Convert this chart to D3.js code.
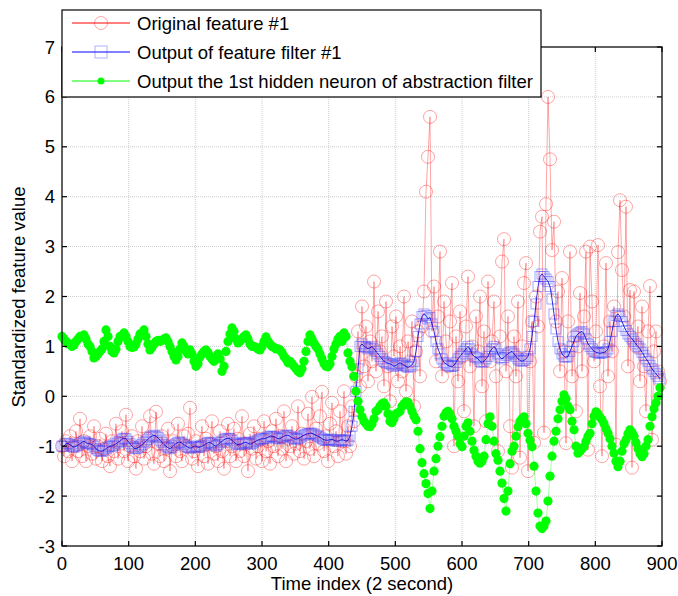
<!DOCTYPE html>
<html>
<head>
<meta charset="utf-8">
<script src="https://cdn.jsdelivr.net/npm/d3@7/dist/d3.min.js"></script>
<style>
  html, body { margin: 0; padding: 0; background: #fff; }
  svg { display: block; font-family: "Liberation Sans", Arial, sans-serif; }
</style>
</head>
<body>
<svg id="chart" width="678" height="596"></svg>
<script>
// Sampling interval of the stored series (time index units)
const timeStep = 3;

// Original feature #1
const originalFeature = [
  -1.0,-1.2,-0.9,-1.1,-0.8,-1.3,-1.0,-0.7,-1.1,-0.45,
  -1.2,-0.9,-1.3,-1.0,-0.8,-1.15,-0.6,-1.25,-1.0,-0.85,
  -1.3,-1.05,-0.75,-1.2,-1.4,-0.9,-1.1,-0.55,-1.25,-0.95,
  -0.7,-1.1,-0.37,-1.3,-1.0,-0.8,-1.2,-1.45,-0.9,-1.1,
  -0.6,-1.25,-1.0,-0.85,-0.4,-1.15,-1.35,-0.31,-0.95,-1.2,
  -0.8,-1.3,-1.05,-0.65,-1.5,-1.0,-0.9,-1.2,-0.55,-1.1,
  -1.3,-0.8,-1.0,-0.75,-0.23,-1.25,-1.1,-0.9,-1.4,-1.0,
  -0.6,-1.2,-0.85,-1.35,-0.95,-0.5,-1.15,-1.0,-1.3,-0.7,
  -1.1,-1.45,-0.9,-0.55,-1.2,-1.0,-0.65,-1.3,-0.85,-1.1,
  -0.4,-1.2,-0.95,-1.5,-0.75,-1.05,-0.6,-1.25,-1.0,-0.85,
  -1.3,-0.5,-1.1,-0.9,-1.35,-0.7,-1.0,-0.45,-1.2,-0.8,
  -1.05,-0.3,-1.3,-0.85,-1.0,-0.6,-1.15,-0.95,-0.2,-1.1,
  -0.75,-1.25,-0.9,-0.35,-1.05,-0.01,-1.2,-0.65,-0.95,-0.4,
  0.09,-1.1,-0.8,-1.3,-0.55,-0.13,-1.0,-0.7,-1.2,-0.3,
  -0.9,0.1,-1.15,-0.6,-1.0,-0.2,-0.5,0.4,1.3,0.2,
  1.8,0.6,1.4,0.3,1.1,0.7,2.3,0.5,1.7,0.9,
  1.2,0.2,1.9,0.6,-0.1,1.4,0.8,1.6,0.3,1.0,
  0.5,2.0,0.1,1.1,0.7,1.5,-0.2,0.9,1.3,0.4,
  1.4,2.1,4.1,4.8,5.6,1.3,2.2,0.7,1.6,2.9,
  0.4,1.9,1.1,0.6,1.5,2.27,-1.0,1.2,0.3,1.7,
  0.8,-0.3,1.4,2.4,0.6,1.0,-0.6,1.6,0.9,2.0,
  0.2,1.3,-0.5,2.3,0.7,1.1,1.9,0.4,-1.1,1.2,
  2.7,3.15,0.5,1.6,-0.6,-1.43,1.2,0.4,1.9,-1.23,
  1.0,2.27,2.67,-1.5,0.7,1.5,-0.93,2.0,1.4,3.3,
  3.6,-0.73,3.85,6.0,4.75,2.93,3.5,1.5,2.1,0.5,
  2.37,0.9,-0.94,1.5,2.9,0.4,1.2,-0.3,1.0,2.07,
  0.5,1.6,2.9,-1.07,3.0,1.9,0.7,1.3,3.03,0.2,
  -1.2,1.0,2.67,0.4,1.5,0.9,1.8,-0.97,2.89,3.93,
  2.53,1.6,3.8,0.6,2.13,-1.43,2.1,1.0,1.4,0.3,
  1.8,0.6,-0.3,1.3,2.21,-0.87,0.9,1.3,0.5,0.3
];

// Output of feature filter #1
const filterOutput = [
  -1.0,-1.0,-0.95,-0.94,-0.97,-1.0,-1.02,-1.0,-0.98,-0.95,
  -0.92,-0.9,-0.93,-0.95,-0.95,-0.97,-1.0,-1.05,-1.08,-1.1,
  -1.1,-1.08,-1.05,-1.02,-1.0,-1.0,-0.98,-0.95,-0.92,-0.9,
  -0.86,-0.84,-0.85,-0.9,-0.95,-1.0,-1.04,-1.05,-1.03,-1.0,
  -0.97,-0.93,-0.9,-0.86,-0.82,-0.8,-0.78,-0.8,-0.83,-0.88,
  -0.92,-0.97,-1.0,-1.03,-1.05,-1.02,-0.98,-0.95,-0.92,-0.92,
  -0.94,-0.97,-1.0,-1.02,-1.04,-1.03,-1.0,-1.0,-1.02,-1.02,
  -1.0,-0.98,-0.95,-0.93,-0.92,-0.95,-0.98,-1.0,-0.97,-0.93,
  -0.9,-0.87,-0.85,-0.84,-0.85,-0.88,-0.92,-0.95,-0.97,-0.96,
  -0.95,-0.93,-0.92,-0.94,-0.96,-0.95,-0.92,-0.9,-0.88,-0.86,
  -0.85,-0.85,-0.84,-0.82,-0.8,-0.8,-0.81,-0.83,-0.85,-0.85,
  -0.82,-0.8,-0.78,-0.78,-0.8,-0.83,-0.85,-0.86,-0.85,-0.83,
  -0.8,-0.78,-0.76,-0.75,-0.74,-0.74,-0.76,-0.78,-0.8,-0.82,
  -0.85,-0.87,-0.88,-0.88,-0.87,-0.86,-0.88,-0.9,-0.9,-0.88,
  -0.87,-0.88,-0.9,-0.88,-0.8,-0.6,-0.3,0.1,0.55,1.0,
  1.05,1.0,0.98,0.95,0.97,1.0,0.95,0.9,0.85,0.8,
  0.75,0.7,0.68,0.66,0.65,0.63,0.6,0.62,0.65,0.67,
  0.65,0.62,0.6,0.58,0.6,0.63,0.7,0.9,1.2,1.45,
  1.6,1.65,1.62,1.55,1.58,1.45,1.3,1.1,0.95,0.85,
  0.75,0.68,0.65,0.62,0.6,0.6,0.62,0.68,0.75,0.8,
  0.85,0.9,0.95,1.0,0.95,0.85,0.8,0.78,0.75,0.7,
  0.68,0.7,0.75,0.8,0.9,0.95,1.0,0.95,0.85,0.78,
  0.75,0.78,0.82,0.85,0.88,0.9,0.85,0.8,0.75,0.72,
  0.7,0.72,0.75,0.8,0.95,1.2,1.5,1.85,2.2,2.4,
  2.45,2.4,2.35,2.3,2.2,1.95,1.65,1.35,1.1,0.95,
  0.85,0.8,0.78,0.8,0.9,1.0,1.1,1.2,1.25,1.28,
  1.3,1.25,1.15,1.05,1.0,0.95,0.9,0.88,0.87,0.86,
  0.87,0.88,0.9,0.95,1.1,1.3,1.5,1.62,1.65,1.6,
  1.5,1.4,1.32,1.25,1.2,1.15,1.1,1.05,1.0,0.95,
  0.88,0.82,0.75,0.7,0.62,0.55,0.5,0.45,0.4,0.35
];

// Output of the 1st hidden neuron of the abstraction filter
const hiddenNeuron = [
  1.2,1.15,1.1,1.05,1.05,1.0,1.03,1.1,1.15,1.2,
  1.2,1.23,1.15,1.05,1.0,0.9,0.77,0.8,0.85,0.9,
  0.95,1.1,1.33,1.2,1.0,0.9,0.87,0.95,1.1,1.2,
  1.2,1.27,1.2,1.1,1.0,0.98,0.99,1.05,1.15,1.25,
  1.25,1.33,1.2,1.05,0.93,0.98,1.05,1.1,1.12,1.1,
  1.12,1.15,1.17,1.1,1.0,0.9,0.8,0.73,0.8,0.95,
  1.07,1.0,0.9,0.85,0.93,0.85,0.7,0.6,0.65,0.79,
  0.85,0.9,0.93,0.88,0.8,0.75,0.7,0.78,0.85,0.75,
  0.5,0.6,0.9,1.1,1.25,1.37,1.3,1.15,1.07,1.1,
  1.15,1.2,1.23,1.15,1.05,1.0,1.0,0.98,0.95,0.93,
  1.0,1.1,1.19,1.1,1.05,1.0,0.98,0.95,0.95,0.93,
  0.88,0.8,0.75,0.67,0.7,0.65,0.6,0.55,0.5,0.47,
  0.55,0.7,0.9,1.1,1.23,1.15,1.07,1.0,0.95,0.85,
  0.75,0.65,0.6,0.59,0.65,0.8,0.95,1.05,1.15,1.2,
  1.1,1.27,1.2,0.87,0.7,0.59,0.4,0.1,-0.1,-0.27,
  -0.41,-0.5,-0.55,-0.6,-0.61,-0.55,-0.45,-0.3,-0.27,-0.2,
  -0.15,-0.13,-0.2,-0.35,-0.5,-0.53,-0.45,-0.35,-0.33,-0.3,
  -0.2,-0.15,-0.11,-0.12,-0.2,-0.3,-0.4,-0.47,-0.7,-1.05,
  -1.33,-1.55,-1.75,-1.95,-2.25,-1.9,-1.5,-1.25,-1.0,-0.81,
  -0.6,-0.4,-0.33,-0.3,-0.35,-0.45,-0.6,-0.7,-0.8,-0.95,
  -1.01,-0.8,-0.6,-0.53,-0.7,-0.9,-1.08,-1.2,-1.3,-1.34,
  -1.3,-1.2,-0.87,-0.55,-0.41,-0.6,-0.9,-1.15,-1.28,-1.5,
  -1.74,-2.05,-2.3,-1.9,-1.35,-1.1,-1.0,-0.8,-0.61,-0.5,
  -0.45,-0.41,-0.55,-0.74,-0.88,-1.01,-1.4,-1.9,-2.34,-2.6,
  -2.65,-2.6,-2.5,-2.1,-1.6,-1.2,-0.9,-0.7,-0.45,-0.27,
  -0.1,0.03,-0.05,-0.2,-0.27,-0.5,-0.67,-1.0,-1.14,-1.1,
  -1.05,-1.01,-0.9,-0.8,-0.74,-0.55,-0.4,-0.31,-0.35,-0.42,
  -0.47,-0.55,-0.65,-0.74,-0.85,-1.0,-1.14,-1.3,-1.41,-1.3,
  -1.1,-0.95,-0.87,-0.75,-0.67,-0.72,-0.8,-0.93,-1.05,-1.15,
  -1.21,-1.15,-1.0,-0.87,-0.6,-0.41,-0.25,-0.13,0.0,0.17
];

const xTicks = [0, 100, 200, 300, 400, 500, 600, 700, 800, 900];
const yTicks = [-3, -2, -1, 0, 1, 2, 3, 4, 5, 6, 7];

const legendLabels = [
  "Original feature #1",
  "Output of feature filter #1",
  "Output the 1st hidden neuron of abstraction filter"
];
const xLabel = "Time index (2 second)";
const yLabel = "Standardized feature value";

// ---- layout ----
const svg = d3.select("#chart");
const plot = { left: 62, right: 662, top: 47, bottom: 546 };
const fontSize = 18.5;

const x = d3.scaleLinear().domain([0, 900]).range([plot.left, plot.right]);
const y = d3.scaleLinear().domain([-3, 7]).range([plot.bottom, plot.top]);

const toPoints = arr => arr.map((v, i) => ({ t: i * timeStep, v }));
const seriesOrig = toPoints(originalFeature);
const seriesFilt = toPoints(filterOutput);
const seriesHid = toPoints(hiddenNeuron);

// grid
const grid = svg.append("g").attr("class", "grid");
grid.selectAll("line.gx").data(xTicks).join("line")
  .attr("x1", d => x(d)).attr("x2", d => x(d))
  .attr("y1", plot.top).attr("y2", plot.bottom)
  .attr("stroke", "#cfcfcf").attr("stroke-width", 1)
  .attr("stroke-dasharray", "1,1");
grid.selectAll("line.gy").data(yTicks).join("line")
  .attr("x1", plot.left).attr("x2", plot.right)
  .attr("y1", d => y(d)).attr("y2", d => y(d))
  .attr("stroke", "#cfcfcf").attr("stroke-width", 1)
  .attr("stroke-dasharray", "1,1");

const line = d3.line().x(d => x(d.t)).y(d => y(d.v));

// original feature: light red line with open circles
svg.append("path").datum(seriesOrig)
  .attr("d", line).attr("fill", "none")
  .attr("stroke", "rgba(255,0,0,0.35)").attr("stroke-width", 1);
svg.append("g").selectAll("circle").data(seriesOrig).join("circle")
  .attr("cx", d => x(d.t)).attr("cy", d => y(d.v)).attr("r", 6.5)
  .attr("fill", "none").attr("stroke", "rgba(255,0,0,0.36)").attr("stroke-width", 1);

// filter output: blue line with open squares
const sq = 10;
svg.append("g").selectAll("rect").data(seriesFilt).join("rect")
  .attr("x", d => x(d.t) - sq / 2).attr("y", d => y(d.v) - sq / 2)
  .attr("width", sq).attr("height", sq)
  .attr("fill", "none").attr("stroke", "rgba(60,60,255,0.45)").attr("stroke-width", 1);
svg.append("path").datum(seriesFilt)
  .attr("d", line).attr("fill", "none")
  .attr("stroke", "rgba(0,0,220,0.8)").attr("stroke-width", 1);

// hidden neuron: green line with filled dots
svg.append("path").datum(seriesHid)
  .attr("d", line).attr("fill", "none")
  .attr("stroke", "rgba(0,255,0,0.35)").attr("stroke-width", 1);
svg.append("g").selectAll("circle").data(seriesHid).join("circle")
  .attr("cx", d => x(d.t)).attr("cy", d => y(d.v)).attr("r", 4.6)
  .attr("fill", "#00ff00");

// axes box and inward ticks
const tickLen = 5;
const axes = svg.append("g").attr("stroke", "#000").attr("stroke-width", 1.2);
axes.append("rect")
  .attr("x", plot.left).attr("y", plot.top)
  .attr("width", plot.right - plot.left).attr("height", plot.bottom - plot.top)
  .attr("fill", "none");
xTicks.forEach(t => {
  axes.append("line").attr("x1", x(t)).attr("x2", x(t))
    .attr("y1", plot.bottom).attr("y2", plot.bottom - tickLen);
  axes.append("line").attr("x1", x(t)).attr("x2", x(t))
    .attr("y1", plot.top).attr("y2", plot.top + tickLen);
});
yTicks.forEach(t => {
  axes.append("line").attr("x1", plot.left).attr("x2", plot.left + tickLen)
    .attr("y1", y(t)).attr("y2", y(t));
  axes.append("line").attr("x1", plot.right).attr("x2", plot.right - tickLen)
    .attr("y1", y(t)).attr("y2", y(t));
});

// tick labels
svg.append("g").selectAll("text").data(xTicks).join("text")
  .attr("x", d => x(d)).attr("y", 570)
  .attr("text-anchor", "middle").attr("font-size", fontSize).attr("fill", "#000")
  .text(d => d);
svg.append("g").selectAll("text").data(yTicks).join("text")
  .attr("x", 55).attr("y", d => y(d) + 6.5)
  .attr("text-anchor", "end").attr("font-size", fontSize).attr("fill", "#000")
  .text(d => d);

// axis titles
svg.append("text").attr("x", 362).attr("y", 590)
  .attr("text-anchor", "middle").attr("font-size", fontSize).text(xLabel);
svg.append("text")
  .attr("transform", "translate(25,297) rotate(-90)")
  .attr("text-anchor", "middle").attr("font-size", fontSize).text(yLabel);

// legend
const lg = svg.append("g");
lg.append("rect").attr("x", plot.left).attr("y", 10)
  .attr("width", 541 - plot.left).attr("height", 97 - 10)
  .attr("fill", "#fff").attr("stroke", "#000").attr("stroke-width", 1.2);
const rowY = [23, 52, 81];
const lineColors = ["#ff0000", "#0000ff", "#00ff00"];
legendLabels.forEach((lab, i) => {
  lg.append("line").attr("x1", 72).attr("x2", 130)
    .attr("y1", rowY[i]).attr("y2", rowY[i])
    .attr("stroke", lineColors[i]).attr("stroke-width", 1);
  lg.append("text").attr("x", 137).attr("y", rowY[i] + 6.5)
    .attr("font-size", fontSize).attr("fill", "#000").text(lab);
});
lg.append("circle").attr("cx", 101).attr("cy", rowY[0]).attr("r", 6.5)
  .attr("fill", "none").attr("stroke", "rgba(255,0,0,0.35)");
lg.append("rect").attr("x", 101 - 6).attr("y", rowY[1] - 6)
  .attr("width", 12).attr("height", 12)
  .attr("fill", "none").attr("stroke", "rgba(60,60,255,0.4)");
lg.append("circle").attr("cx", 101).attr("cy", rowY[2]).attr("r", 3.5)
  .attr("fill", "#00ff00");
</script>
</body>
</html>
